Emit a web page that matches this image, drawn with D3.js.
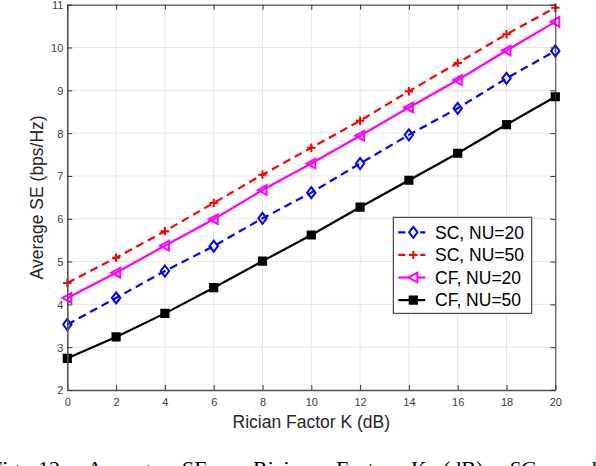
<!DOCTYPE html>
<html>
<head>
<meta charset="utf-8">
<script src="https://cdn.jsdelivr.net/npm/d3@7"></script>
<style>
  body { margin: 0; background: #fff; }
  svg { display: block; }
  .tick text { font-family: "Liberation Sans", Arial, sans-serif; }
</style>
</head>
<body>
<div class="chart"></div>
<script>
const K_DB = [0, 2, 4, 6, 8, 10, 12, 14, 16, 18, 20];
const SC_NU20 = [3.53, 4.15, 4.78, 5.36, 6.01, 6.61, 7.29, 7.96, 8.58, 9.28, 9.92];
const SC_NU50 = [4.50, 5.09, 5.71, 6.37, 7.03, 7.66, 8.29, 8.98, 9.64, 10.31, 10.93];
const CF_NU20 = [4.15, 4.74, 5.37, 5.99, 6.67, 7.29, 7.94, 8.60, 9.24, 9.93, 10.60];
const CF_NU50 = [2.74, 3.24, 3.79, 4.39, 5.01, 5.62, 6.27, 6.90, 7.53, 8.20, 8.85];
const Y_TICKS = [2, 3, 4, 5, 6, 7, 8, 9, 10, 11];
const LEGEND_LABELS = ['SC, NU=20', 'SC, NU=50', 'CF, NU=20', 'CF, NU=50'];
const X_LABEL = 'Rician Factor K (dB)';
const Y_LABEL = 'Average SE (bps/Hz)';
const CAPTION_WORDS = ['Fig.', '12:', 'Average', 'SE', 'vs', 'Rician', 'Factor', 'K', '(dB).', 'SC', 'and'];

const FONT = '"Liberation Sans", Arial, sans-serif';
const WIDTH = 596, HEIGHT = 466;
const plot = { left: 67.3, right: 555.3, top: 4.7, bottom: 390 };

// marker shapes, centred on 0,0
const markers = {
  diamond: 'M0,-5.5L4.2,0L0,5.5L-4.2,0Z',
  plus: 'M-4.2,0H4.2M0,-4.2V4.2',
  triLeft: 'M-4.8,0L4,-4.8L4,4.8Z',
  square: 'M-3.6,-3.6H3.6V3.6H-3.6Z'
};

function buildSeries() {
  return [
    { label: LEGEND_LABELS[0], values: SC_NU20, color: '#0000ff', dash: '8,5', marker: 'diamond', fill: 'none' },
    { label: LEGEND_LABELS[1], values: SC_NU50, color: '#ff0000', dash: '8,5', marker: 'plus', fill: 'none' },
    { label: LEGEND_LABELS[2], values: CF_NU20, color: '#ff00ff', dash: null, marker: 'triLeft', fill: 'none' },
    { label: LEGEND_LABELS[3], values: CF_NU50, color: '#000000', dash: null, marker: 'square', fill: '#000000' }
  ];
}

function createSVG() {
  return d3.select('.chart')
    .append('svg')
    .attr('width', WIDTH)
    .attr('height', HEIGHT);
}

function drawGrid(svg, x, y) {
  let g = svg.append('g').attr('class', 'grid');
  g.selectAll('line.v').data(K_DB).join('line')
    .attr('x1', d => x(d)).attr('x2', d => x(d))
    .attr('y1', plot.top).attr('y2', plot.bottom)
    .attr('stroke', '#e6e6e6').attr('stroke-width', 1);
  g.selectAll('line.h').data(Y_TICKS).join('line')
    .attr('x1', plot.left).attr('x2', plot.right)
    .attr('y1', d => y(d)).attr('y2', d => y(d))
    .attr('stroke', '#e6e6e6').attr('stroke-width', 1);
}

function drawAxes(svg, x, y) {
  let bottom = svg.append('g')
    .attr('transform', `translate(0,${plot.bottom})`)
    .call(d3.axisBottom(x).tickValues(K_DB).tickSizeInner(-5).tickSizeOuter(0).tickPadding(8));
  let left = svg.append('g')
    .attr('transform', `translate(${plot.left},0)`)
    .call(d3.axisLeft(y).tickValues(Y_TICKS).tickSizeInner(-5).tickSizeOuter(0).tickPadding(4));
  let top = svg.append('g')
    .attr('transform', `translate(0,${plot.top})`)
    .call(d3.axisTop(x).tickValues(K_DB).tickSizeInner(-5).tickSizeOuter(0).tickFormat(''));
  let right = svg.append('g')
    .attr('transform', `translate(${plot.right},0)`)
    .call(d3.axisRight(y).tickValues(Y_TICKS).tickSizeInner(-5).tickSizeOuter(0).tickFormat(''));

  [bottom, left, top, right].forEach(axis => {
    axis.select('.domain').attr('stroke', '#333333').attr('stroke-width', 1);
    axis.selectAll('.tick line').attr('stroke', '#333333').attr('stroke-width', 1);
    axis.selectAll('.tick text').attr('fill', '#404040').attr('font-size', 11);
  });
  bottom.select('.domain').attr('stroke', '#555555').attr('stroke-width', 1.6);
  left.select('.domain').attr('stroke', '#555555').attr('stroke-width', 1.6);
  left.selectAll('.tick text').attr('dy', '0.36em');

  svg.append('text')
    .attr('x', (plot.left + plot.right) / 2)
    .attr('y', 428)
    .attr('text-anchor', 'middle')
    .attr('font-family', FONT).attr('font-size', 17.5).attr('fill', '#262626')
    .text(X_LABEL);

  svg.append('text')
    .attr('transform', `translate(43.3,${(plot.top + plot.bottom) / 2}) rotate(-90)`)
    .attr('text-anchor', 'middle')
    .attr('font-family', FONT).attr('font-size', 17.5).attr('fill', '#262626')
    .text(Y_LABEL);
}

function drawSeries(svg, series, x, y) {
  let line = d3.line().x(d => x(d[0])).y(d => y(d[1]));
  series.forEach(s => {
    let points = K_DB.map((k, i) => [k, s.values[i]]);
    svg.append('path')
      .datum(points)
      .attr('d', line)
      .attr('fill', 'none')
      .attr('stroke', s.color)
      .attr('stroke-width', 2.2)
      .attr('stroke-dasharray', s.dash);
    svg.append('g').selectAll('path').data(points).join('path')
      .attr('transform', d => `translate(${x(d[0])},${y(d[1])})`)
      .attr('d', markers[s.marker])
      .attr('fill', s.fill)
      .attr('stroke', s.color)
      .attr('stroke-width', 2);
  });
}

function drawLegend(svg, series) {
  let box = { x: 393.3, y: 217.3, w: 138.4, h: 96, row: 22.6 };
  let g = svg.append('g');
  g.append('rect')
    .attr('x', box.x).attr('y', box.y).attr('width', box.w).attr('height', box.h)
    .attr('fill', '#fff').attr('stroke', '#262626').attr('stroke-width', 1);
  series.forEach((s, i) => {
    let cy = box.y + 15 + i * box.row;
    g.append('line')
      .attr('x1', box.x + 5).attr('x2', box.x + 32)
      .attr('y1', cy).attr('y2', cy)
      .attr('stroke', s.color).attr('stroke-width', 2.2)
      .attr('stroke-dasharray', s.dash ? '7,4' : null);
    g.append('path')
      .attr('transform', `translate(${box.x + 20},${cy})`)
      .attr('d', markers[s.marker])
      .attr('fill', s.fill === 'none' ? '#fff' : s.fill)
      .attr('stroke', s.color).attr('stroke-width', 2);
    g.append('text')
      .attr('x', box.x + 41.7).attr('y', cy)
      .attr('dy', '0.36em')
      .attr('font-family', FONT).attr('font-size', 17.5).attr('fill', '#000')
      .text(s.label);
  });
}

function drawCaption(svg) {
  // justified caption line, only its top shows at the bottom edge
  let wordX = [-10, 38, 87, 182, 220, 253, 336, 411, 443, 509, 565];
  let t = svg.append('text')
    .attr('y', 476)
    .attr('font-family', '"Liberation Serif", "Times New Roman", serif')
    .attr('font-size', 22)
    .attr('fill', '#000');
  CAPTION_WORDS.forEach((word, i) => {
    t.append('tspan')
      .attr('x', wordX[i])
      .attr('font-style', word === 'SC' ? 'italic' : null)
      .text(word);
  });
}

function onLoad() {
  let svg = createSVG();
  let x = d3.scaleLinear().domain([0, 20]).range([plot.left, plot.right]);
  let y = d3.scaleLinear().domain([2, 11]).range([plot.bottom, plot.top]);
  let series = buildSeries();
  drawGrid(svg, x, y);
  drawSeries(svg, series, x, y);
  drawAxes(svg, x, y);
  drawLegend(svg, series);
  drawCaption(svg);
}
onLoad();
</script>
</body>
</html>
